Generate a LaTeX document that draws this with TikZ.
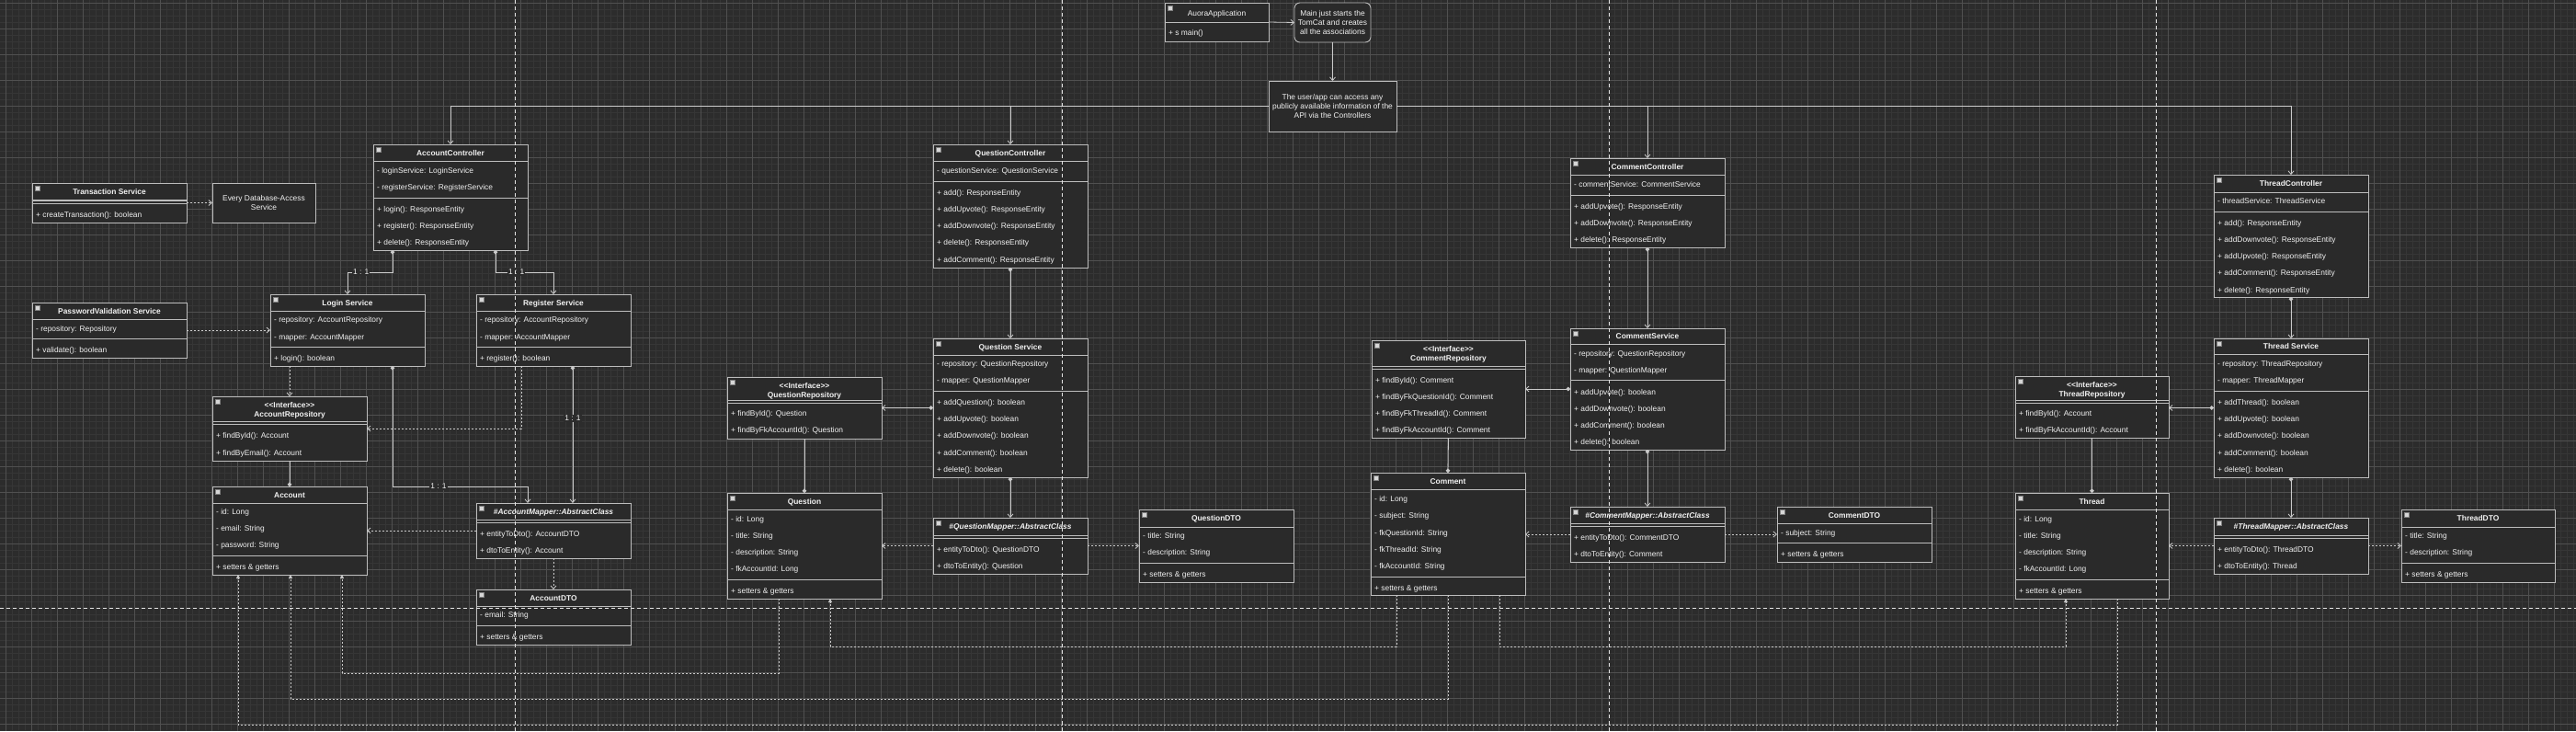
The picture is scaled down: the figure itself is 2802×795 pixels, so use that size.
\documentclass[tikz,border=0pt]{standalone}
\usepackage{fontspec}
\setmainfont{Liberation Sans}[Ligatures=TeXOff]
\usetikzlibrary{arrows.meta,calc}
\definecolor{bg}{HTML}{2C2C2C}
\definecolor{gmin}{HTML}{363636}
\definecolor{gmaj}{HTML}{505050}
\definecolor{boxf}{HTML}{2A2A2A}
\definecolor{boxc}{HTML}{BDBDBD}
\definecolor{txt}{HTML}{F2F2F2}
\definecolor{linec}{HTML}{CACACA}
\definecolor{sepc}{HTML}{E4E4E4}
\definecolor{iconc}{HTML}{D6D6D6}
\newcount\umlrowno
\newcommand\umlbox[6]{% name x y w h headerh
  \def\ucx{#2}\def\ucw{#4}%
  \node[box, minimum width=#4pt, minimum height=#5pt, anchor=north west] (#1) at (#2,#3) {};
  \draw[boxline] (#2,{#3+#6}) -- ++(#4,0);
  \filldraw[icon] ({#2+3},{#3+3}) rectangle ++(5,5);
}
\newcommand\umlcls[7]{% name x y w h headerh title
  \umlbox{#1}{#2}{#3}{#4}{#5}{#6}%
  \node[ttl, anchor=base] (#1-t) at ({#2+#4/2},{#3+#6/2+3}) {#7};
}
\newcommand\umlicls[7]{% interface
  \umlbox{#1}{#2}{#3}{#4}{#5}{#6}%
  \node[ttl, anchor=base] (#1-s) at ({#2+#4/2},{#3+9+3}) {<<Interface>>};
  \node[ttl, anchor=base] (#1-t) at ({#2+#4/2},{#3+19+3}) {#7};
}
\newcommand\umlrow[2]{\global\advance\umlrowno by 1
  \node[itm, anchor=base west] (row\the\umlrowno) at ({\ucx+4},{#1+3}) {#2};}
\newcommand\umlsep[1]{\draw[boxline] (\ucx,#1) -- ++(\ucw,0);}
\newcommand\umldsep[1]{\draw[boxline] (\ucx,#1) -- ++(\ucw,0);
  \draw[boxline] (\ucx,{#1+3}) -- ++(\ucw,0);}
\begin{document}
\begin{tikzpicture}[x=1pt,y=-1pt,
  box/.style={draw=boxc, fill=boxf, line width=0.9pt, inner sep=0pt, outer sep=0pt, rectangle},
  boxline/.style={draw=boxc, line width=0.9pt},
  icon/.style={fill=iconc, draw=gray, line width=0.4pt},
  ttl/.style={font=\fontsize{8.4}{10}\selectfont\bfseries, text=txt, inner sep=0pt},
  itm/.style={font=\fontsize{8.4}{10}\selectfont, text=txt, inner sep=0pt},
  note/.style={box, font=\fontsize{8.4}{10}\selectfont, text=txt, align=center},
  conn/.style={draw=linec, line width=0.8pt},
  arr/.style={-{Straight Barb[length=3.5pt,width=6pt]}},
  comp/.style={conn, {Circle[length=4.5pt]}-{Straight Barb[length=3.5pt,width=6pt]}},
  dep/.style={conn, dash pattern=on 2pt off 2pt, -{Straight Barb[length=3.5pt,width=6pt]}},
  dept/.style={conn, dash pattern=on 2pt off 2pt, -{Triangle[length=4pt,width=4pt]}},
  lbl/.style={fill=bg, text=txt, font=\fontsize{8.4}{10}\selectfont, inner sep=1pt},
  sepline/.style={draw=sepc, line width=0.9pt, dash pattern=on 4pt off 3pt}]
\useasboundingbox (0,0) rectangle (2802,795);
\fill[bg] (0,0) rectangle (2802,795);
% grid
\draw[gmin, line width=0.6pt] \foreach \i in {0,...,401} {({-0.7+7*\i},0) -- ++(0,795)};
\draw[gmin, line width=0.6pt] \foreach \j in {0,...,114} {(0,{-3.7+7*\j}) -- ++(2802,0)};
\draw[gmaj, line width=0.8pt] \foreach \i in {0,...,100} {({6.3+28*\i},0) -- ++(0,795)};
\draw[gmaj, line width=0.8pt] \foreach \j in {0,...,28} {(0,{3.3+28*\j}) -- ++(2802,0)};

% ===== top =====
\umlbox{app}{1267}{3}{113}{42}{21}
\node[itm, anchor=base] (app-t) at (1323.5,17) {AuoraApplication};
\umlrow{35}{+ s main()}
\node[note, rounded corners=6pt, minimum width=83pt, minimum height=43pt] (mnote) at (1449.5,24.5)
  {Main just starts the\\TomCat and creates\\all the associations};
\node[note, minimum width=139pt, minimum height=55pt] (ub) at (1449.5,115.5)
  {The user/app can access any\\publicly available information of the\\API via the Controllers};

% ===== account column =====
\umlcls{ts}{35}{199}{168}{43}{18}{Transaction Service}
\umldsep{218}
\umlrow{233}{+ createTransaction(): boolean}
\node[note, minimum width=112pt, minimum height=43pt] (db) at (287,220.5) {Every Database-Access\\Service};

\umlcls{ac}{406}{157}{168}{115}{18}{AccountController}
\umlrow{185}{- loginService: LoginService}
\umlrow{203}{- registerService: RegisterService}
\umlsep{215}
\umlrow{227}{+ login(): ResponseEntity}
\umlrow{245}{+ register(): ResponseEntity}
\umlrow{263}{+ delete(): ResponseEntity}

\umlcls{pvs}{35}{329}{168}{60}{18}{PasswordValidation Service}
\umlrow{357}{- repository: Repository}
\umlsep{368}
\umlrow{380}{+ validate(): boolean}

\umlcls{ls}{294}{320}{168}{78}{18}{Login Service}
\umlrow{347}{- repository: AccountRepository}
\umlrow{366}{- mapper: AccountMapper}
\umlsep{377}
\umlrow{389}{+ login(): boolean}

\umlcls{rs}{518}{320}{168}{78}{18}{Register Service}
\umlrow{347}{- repository: AccountRepository}
\umlrow{366}{- mapper: AccountMapper}
\umlsep{377}
\umlrow{389}{+ register(): boolean}

\umlicls{ar}{231}{431}{168}{70}{27}{AccountRepository}
\umldsep{458}
\umlrow{473}{+ findById(): Account}
\umlrow{492}{+ findByEmail(): Account}

\umlcls{acc}{231}{529}{168}{96}{18}{Account}
\umlrow{556}{- id: Long}
\umlrow{574}{- email: String}
\umlrow{592}{- password: String}
\umlsep{604}
\umlrow{616}{+ setters \& getters}

\umlcls{am}{518}{547}{168}{60}{18}{\itshape \#AccountMapper::AbstractClass}
\umldsep{565}
\umlrow{580}{+ entityToDto(): AccountDTO}
\umlrow{598}{+ dtoToEntity(): Account}

\umlcls{adto}{518}{641}{168}{60}{18}{AccountDTO}
\umlrow{668}{- email: String}
\umlsep{680}
\umlrow{692}{+ setters \& getters}

% ===== question column =====
\umlcls{qc}{1015}{157}{168}{134}{18}{QuestionController}
\umlrow{185}{- questionService: QuestionService}
\umlsep{197}
\umlrow{209}{+ add(): ResponseEntity}
\umlrow{227}{+ addUpvote(): ResponseEntity}
\umlrow{245}{+ addDownvote(): ResponseEntity}
\umlrow{263}{+ delete(): ResponseEntity}
\umlrow{282}{+ addComment(): ResponseEntity}

\umlcls{qs}{1015}{368}{168}{151}{18}{Question Service}
\umlrow{395}{- repository: QuestionRepository}
\umlrow{413}{- mapper: QuestionMapper}
\umlsep{425}
\umlrow{437}{+ addQuestion(): boolean}
\umlrow{455}{+ addUpvote(): boolean}
\umlrow{473}{+ addDownvote(): boolean}
\umlrow{492}{+ addComment(): boolean}
\umlrow{510}{+ delete(): boolean}

\umlicls{qr}{791}{410}{168}{67}{25}{QuestionRepository}
\umldsep{435}
\umlrow{449}{+ findById(): Question}
\umlrow{467}{+ findByFkAccountId(): Question}

\umlcls{q}{791}{536}{168}{115}{18}{Question}
\umlrow{564}{- id: Long}
\umlrow{582}{- title: String}
\umlrow{600}{- description: String}
\umlrow{618}{- fkAccountId: Long}
\umlsep{630}
\umlrow{642}{+ setters \& getters}

\umlcls{qm}{1015}{563}{168}{61}{19}{\itshape \#QuestionMapper::AbstractClass}
\umldsep{582}
\umlrow{597}{+ entityToDto(): QuestionDTO}
\umlrow{615}{+ dtoToEntity(): Question}

\umlcls{qdto}{1239}{554}{168}{79}{19}{QuestionDTO}
\umlrow{582}{- title: String}
\umlrow{600}{- description: String}
\umlsep{612}
\umlrow{624}{+ setters \& getters}

% ===== comment column =====
\umlcls{cc}{1708}{172}{168}{97}{18}{CommentController}
\umlrow{200}{- commentService: CommentService}
\umlsep{212}
\umlrow{224}{+ addUpvote(): ResponseEntity}
\umlrow{242}{+ addDownvote(): ResponseEntity}
\umlrow{260}{+ delete(): ResponseEntity}

\umlcls{cs}{1708}{357}{168}{132}{17}{CommentService}
\umlrow{384}{- repository: QuestionRepository}
\umlrow{402}{- mapper: QuestionMapper}
\umlsep{413}
\umlrow{426}{+ addUpvote(): boolean}
\umlrow{444}{+ addDownvote(): boolean}
\umlrow{462}{+ addComment(): boolean}
\umlrow{480}{+ delete(): boolean}

\umlicls{cr}{1492}{370}{167}{106}{28}{CommentRepository}
\umldsep{398}
\umlrow{413}{+ findById(): Comment}
\umlrow{431}{+ findByFkQuestionId(): Comment}
\umlrow{449}{+ findByFkThreadId(): Comment}
\umlrow{467}{+ findByFkAccountId(): Comment}

\umlcls{cm}{1491}{514}{168}{133}{18}{Comment}
\umlrow{542}{- id: Long}
\umlrow{560}{- subject: String}
\umlrow{579}{- fkQuestionId: String}
\umlrow{597}{- fkThreadId: String}
\umlrow{615}{- fkAccountId: String}
\umlsep{627}
\umlrow{639}{+ setters \& getters}

\umlcls{cmap}{1708}{551}{168}{60}{18}{\itshape \#CommentMapper::AbstractClass}
\umldsep{569}
\umlrow{584}{+ entityToDto(): CommentDTO}
\umlrow{602}{+ dtoToEntity(): Comment}

\umlcls{cdto}{1933}{551}{168}{60}{18}{CommentDTO}
\umlrow{579}{- subject: String}
\umlsep{590}
\umlrow{602}{+ setters \& getters}

% ===== thread column =====
\umlcls{tc}{2408}{190}{168}{133}{19}{ThreadController}
\umlrow{218}{- threadService: ThreadService}
\umlsep{230}
\umlrow{242}{+ add(): ResponseEntity}
\umlrow{260}{+ addDownvote(): ResponseEntity}
\umlrow{278}{+ addUpvote(): ResponseEntity}
\umlrow{296}{+ addComment(): ResponseEntity}
\umlrow{315}{+ delete(): ResponseEntity}

\umlcls{tsv}{2408}{368}{168}{151}{17}{Thread Service}
\umlrow{395}{- repository: ThreadRepository}
\umlrow{413}{- mapper: ThreadMapper}
\umlsep{425}
\umlrow{437}{+ addThread(): boolean}
\umlrow{455}{+ addUpvote(): boolean}
\umlrow{473}{+ addDownvote(): boolean}
\umlrow{492}{+ addComment(): boolean}
\umlrow{510}{+ delete(): boolean}

\umlicls{tr}{2192}{409}{167}{67}{26}{ThreadRepository}
\umldsep{435}
\umlrow{449}{+ findById(): Account}
\umlrow{467}{+ findByFkAccountId(): Account}

\umlcls{th}{2192}{536}{167}{115}{18}{Thread}
\umlrow{564}{- id: Long}
\umlrow{582}{- title: String}
\umlrow{600}{- description: String}
\umlrow{618}{- fkAccountId: Long}
\umlsep{630}
\umlrow{642}{+ setters \& getters}

\umlcls{tmap}{2408}{563}{168}{61}{19}{\itshape \#ThreadMapper::AbstractClass}
\umldsep{582}
\umlrow{597}{+ entityToDto(): ThreadDTO}
\umlrow{615}{+ dtoToEntity(): Thread}

\umlcls{tdto}{2612}{554}{167}{79}{19}{ThreadDTO}
\umlrow{582}{- title: String}
\umlrow{600}{- description: String}
\umlsep{612}
\umlrow{624}{+ setters \& getters}

% ===== connectors =====
\draw[conn,arr] (app.east) -- (mnote.west);
\draw[conn,arr] (mnote.south) -- (ub.north);
\draw[conn,arr] (ub.west) -| (ac.north);
\draw[conn,arr] (ub.west) -| (qc.north);
\draw[conn,arr] (ub.east) -| (cc.north);
\draw[conn,arr] (ub.east) -| (tc.north);

\draw[dep] (ts.east) -- (db.west);
\draw[dep] (pvs.east) -- (ls.west);
\draw[comp] ([xshift=21pt]ac.south west) -- ++(0,24) -| node[lbl,pos=0.35] (l1) {1 : 1} (ls.north);
\draw[comp] ([xshift=-35pt]ac.south east) -- ++(0,24) -| node[lbl,pos=0.18] (l2) {1 : 1} (rs.north);
\draw[dep] ([xshift=21pt]ls.south west) -- (ar.north);
\draw[dep] ([xshift=49pt]rs.south west) |- (ar.east);
\draw[conn,-{Circle[length=4.5pt]}] (ar.south) -- (acc.north);
\draw[comp] ([xshift=-35pt]ls.south east) -- ++(0,131) -| node[lbl,pos=0.17] (l3) {1 : 1} ([xshift=56pt]am.north west);
\draw[comp] ([xshift=-63pt]rs.south east) -- node[lbl,pos=0.38] (l4) {1 : 1} ([xshift=-63pt]am.north east);
\draw[dep] (am.west) -- (am.west -| acc.east);
\draw[dep] (am.south) -- (adto.north);

\draw[comp] (qc.south) -- (qs.north);
\draw[comp] (qs.west) -- (qs.west -| qr.east);
\draw[conn,-{Circle[length=4.5pt]}] (qr.south) -- (q.north);
\draw[comp] (qs.south) -- (qm.north);
\draw[dep] (qm.west) -- (qm.west -| q.east);
\draw[dep] (qm.east) -- (qm.east -| qdto.west);

\draw[comp] (cc.south) -- (cs.north);
\draw[comp] (cs.west) -- (cs.west -| cr.east);
\draw[conn,-{Circle[length=4.5pt]}] (cr.south) -- (cm.north);
\draw[comp] (cs.south) -- (cmap.north);
\draw[dep] (cmap.west) -- (cmap.west -| cm.east);
\draw[dep] (cmap.east) -- (cmap.east -| cdto.west);

\draw[comp] (tc.south) -- (tsv.north);
\draw[comp] (tsv.west) -- (tsv.west -| tr.east);
\draw[conn,-{Circle[length=4.5pt]}] (tr.south) -- (th.north);
\draw[comp] (tsv.south) -- (tmap.north);
\draw[dep] (tmap.west) -- (tmap.west -| th.east);
\draw[dep] (tmap.east) -- (tmap.east -| tdto.west);

% bottom foreign-key dependencies
\draw[dept] ([xshift=56pt]q.south west) -- ++(0,81) -| ([xshift=141pt]acc.south west);
\draw[dept] (cm.south) -- ++(0,113) -| ([xshift=85pt]acc.south west);
\draw[dept] ([xshift=111pt]th.south west) -- ++(0,137) -| ([xshift=28pt]acc.south west);
\draw[dept] ([xshift=28pt]cm.south west) -- ++(0,56) -| ([xshift=112pt]q.south west);
\draw[dept] ([xshift=140pt]cm.south west) -- ++(0,56) -| ([xshift=55pt]th.south west);

% swimlane separators
\draw[sepline] (560,0) -- (560,795);
\draw[sepline] (1155,0) -- (1155,795);
\draw[sepline] (1750,0) -- (1750,795);
\draw[sepline] (2345,0) -- (2345,795);
\draw[sepline] (0,661) -- (2802,661);
\end{tikzpicture}
\end{document}
